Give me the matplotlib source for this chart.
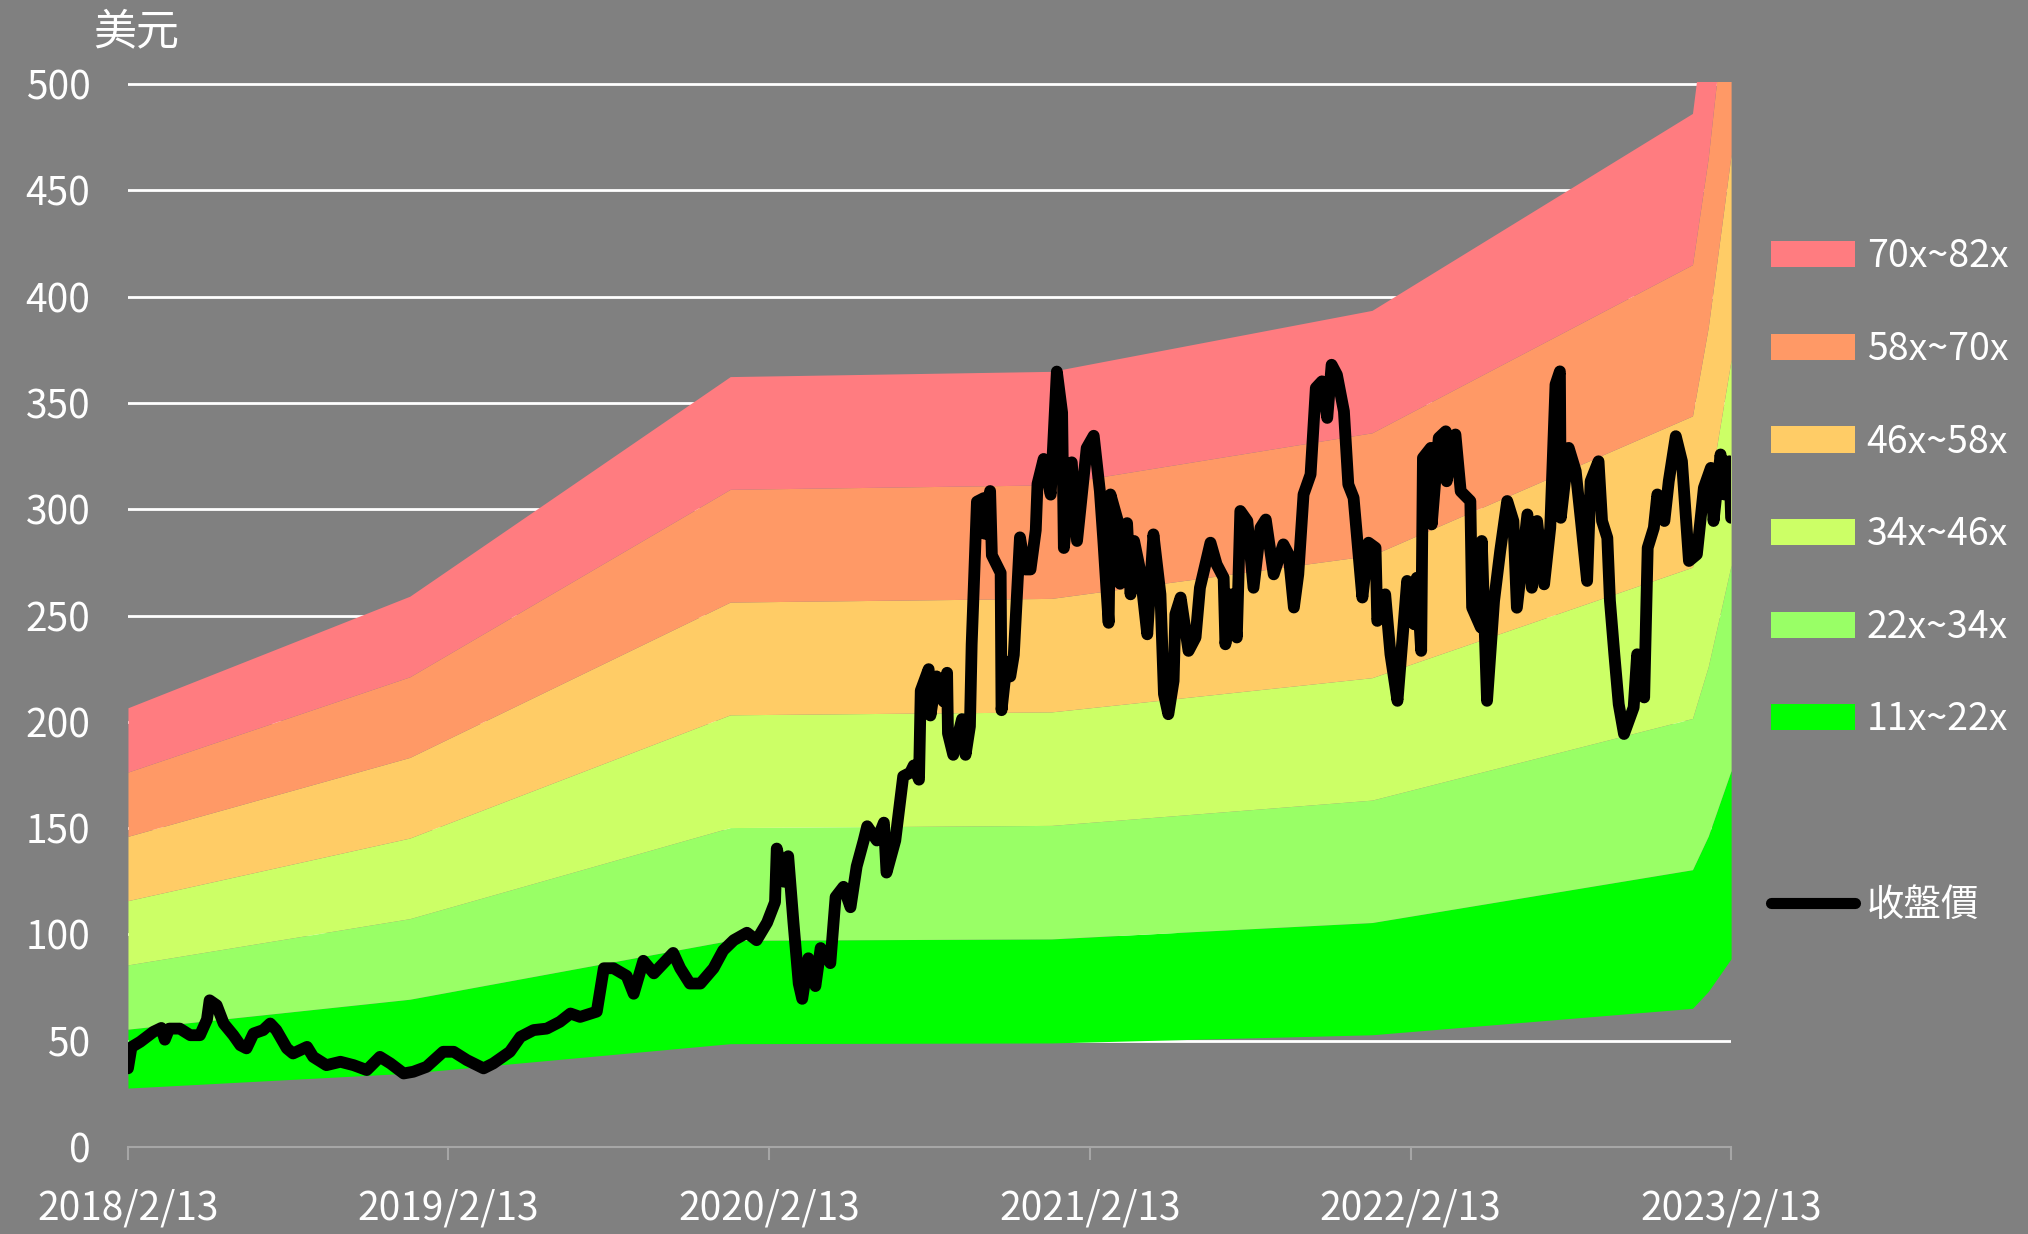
import datetime as dt
import numpy as np
import matplotlib
matplotlib.use('Agg')
import matplotlib.pyplot as plt
from matplotlib.patches import Patch
from matplotlib.lines import Line2D

# ---------------------------- data ----------------------------

START = dt.date(2018, 2, 13)

# EPS anchors (band = EPS * PE multiple)
eps_dates = ['2018-02-13', '2018-12-31', '2019-12-31', '2020-12-31',
             '2021-12-31', '2022-12-31', '2023-01-18', '2023-02-13']
eps_values = [2.52, 3.16, 4.42, 4.45, 4.80, 5.93, 6.65, 8.05]

pe_levels = [11, 22, 34, 46, 58, 70, 82]
band_labels = ['11x~22x', '22x~34x', '34x~46x', '46x~58x', '58x~70x', '70x~82x']
band_colors = ['#00FF00', '#99FF66', '#CCFF66', '#FFCC66', '#FF9966', '#FF7C80']

# closing price, days counted from 2018/2/13
price_day = [0, 4, 14, 29, 38, 42, 47, 59, 71, 82, 90, 93, 101, 109, 120, 128, 135, 143,
             154, 162, 169, 181, 188, 204, 211, 226, 242, 257, 272, 287, 299, 314, 325,
             340, 359, 371, 386, 405, 416, 435, 447, 462, 477, 492, 504, 515, 534,
             542, 553, 568, 576, 587, 599, 610, 621, 629, 640, 652, 667, 678, 690, 705,
             716, 728, 737, 739, 747, 752, 758, 764, 768, 775, 783, 789, 800, 806, 815,
             823, 830, 838, 842, 853, 861, 864, 874, 878, 883, 891, 895, 901, 903, 912,
             914, 921, 929, 933, 934, 940, 950, 954, 959, 961, 967, 975, 976, 982, 984,
             994, 995, 1001, 1005, 1009, 1016, 1022, 1028, 1034, 1036, 1043, 1051, 1058,
             1064, 1066, 1075, 1081, 1092, 1100, 1107, 1111, 1117, 1119, 1127, 1130,
             1138, 1142, 1146, 1153, 1161, 1168, 1176, 1180, 1185, 1191, 1193, 1199,
             1208, 1216, 1221, 1233, 1240, 1248, 1250, 1257, 1263, 1267, 1275, 1282,
             1290, 1296, 1305, 1316, 1322, 1328, 1333, 1339, 1347, 1353, 1360, 1366,
             1371, 1377, 1385, 1390, 1396, 1406, 1413, 1421, 1423, 1432, 1438, 1446,
             1457, 1465, 1468, 1473, 1475, 1484, 1485, 1493, 1501, 1502, 1512, 1518,
             1529, 1531, 1541, 1542, 1548, 1556, 1563, 1571, 1578, 1582, 1594, 1599,
             1605, 1613, 1620, 1626, 1631, 1632, 1641, 1649, 1655, 1662, 1666, 1675,
             1679, 1685, 1688, 1693, 1698, 1704, 1709, 1715, 1719, 1727, 1731, 1738,
             1742, 1750, 1755, 1763, 1770, 1778, 1787, 1795, 1803, 1806, 1814, 1818,
             1824, 1826]
price_close = [37, 47, 49.5, 54.2, 56, 50.5, 55.7, 55.7, 52.6, 52.6, 60, 69, 66.7, 58.1,
               52.6, 47.9, 46.4, 53.4, 55, 58.1, 55, 46.4, 44, 47.1, 42.4, 38.5, 40.1,
               38.5, 36.2, 42.4, 39.3, 34.6, 35.4, 37.7, 44.8, 44.8, 40.9, 37, 39.3,
               44.8, 51.8, 55, 55.7, 58.9, 62.8, 61.2, 63.7,
               84.1, 84.1, 80.5, 72.1, 87.6, 81.7, 86.5, 91.3, 84.1, 76.9, 76.9, 84.1,
               92.5, 97.3, 100.8, 97.3, 105.6, 115.2, 140.4, 124.8, 136.8, 105.6, 76.9,
               69.7, 88.8, 75.7, 93.6, 86.5, 117.6, 122.4, 112.8, 132, 144.2, 150.9,
               144.2, 152.6, 129.1, 144.2, 157.7, 174.4, 176.1, 179.5, 172.8, 214.7,
               224.8, 203, 221.4, 209.6, 223.1, 194.6, 184.5, 201.3, 184.5, 197.9, 236.5,
               303.6, 305.3, 288.5, 308.6, 278.4, 270.1, 205.5, 228.1, 221.4, 231.5,
               286.8, 271.7, 271.7, 290.2, 312, 323.7, 306.9, 364.8, 345.5, 281.8, 322.1,
               285.1, 328.8, 334.6, 308.6, 285.1, 246.6, 307, 295.2, 265, 293.5, 260,
               285.1, 271, 241.2, 288.2, 260, 213.1, 203.6, 219.3, 250.6, 258.5, 233.4,
               239.7, 263.1, 284.3, 274.1, 267.8, 236.5, 260, 239.7, 299.2, 294.5, 263.1,
               291.3, 295.2, 269.4, 283.5, 278.8, 253.8, 269.4, 307, 316.4, 357.1, 360.2,
               343, 368, 363.3, 346.1, 311.7, 305.4, 258.5, 284.3, 281.9, 247.5, 260,
               231.8, 209.9, 266.3, 245.9, 267.8, 233.4, 324.2, 328.9, 292.9, 333.6,
               336.7, 313.2, 335.2, 308.5, 303.9, 253.8, 244.4, 285.1, 209.9, 256.9,
               280.4, 303.9, 294.5, 253.7, 297.6, 263.1, 294.5, 264.7, 291.3, 358.7,
               364.9, 296, 328.9, 318, 294.5, 266.3, 313.2, 322.6, 294.5, 286.6, 256.9,
               231.8, 208.3, 194.3, 200, 206.8, 231.8, 211.5, 281.9, 291.3, 307, 294.5,
               313.2, 334.4, 322.6, 275.7, 278.8, 310.1, 319.5, 294.5, 325.8, 307, 322.6,
               296]

year_ticks = ['2018-02-13', '2019-02-13', '2020-02-13', '2021-02-13', '2022-02-13', '2023-02-13']

# ---------------------------- plot ----------------------------

plt.rcParams['font.family'] = ['Noto Sans CJK TC', 'DejaVu Sans']
BG = '#808080'
AXIS_GRAY = '#A6A6A6'

fig = plt.figure(figsize=(20.28, 12.34), dpi=100, facecolor=BG)
ax = fig.add_axes([0.0631, 0.0705, 0.7905, 0.863])
ax.set_facecolor(BG)

e_dates = [dt.datetime.strptime(d, '%Y-%m-%d') for d in eps_dates]
e_vals = np.array(eps_values)
for i in range(len(band_labels)):
    ax.fill_between(e_dates, e_vals * pe_levels[i], e_vals * pe_levels[i + 1],
                    color=band_colors[i], linewidth=0, zorder=1)

p_dates = [START + dt.timedelta(days=d) for d in price_day]
ax.plot(p_dates, price_close, color='black', linewidth=8.5,
        solid_joinstyle='round', solid_capstyle='round', zorder=3)

ax.set_xlim(dt.date(2018, 2, 13), dt.date(2023, 2, 13))
ax.set_ylim(0, 501)
ax.set_yticks(np.arange(0, 501, 50))
ax.yaxis.grid(True, color='white', linewidth=2)
ax.set_axisbelow(True)

ticks = [dt.datetime.strptime(d, '%Y-%m-%d') for d in year_ticks]
ax.set_xticks(ticks)
ax.set_xticklabels([f'{t.year}/{t.month}/{t.day}' for t in ticks])

for s in ['top', 'right', 'left']:
    ax.spines[s].set_visible(False)
ax.spines['bottom'].set_color(AXIS_GRAY)
ax.spines['bottom'].set_linewidth(1.5)

ax.tick_params(axis='y', length=0, pad=27, labelsize=28, labelcolor='white')
ax.tick_params(axis='x', length=9, width=1.5, color=AXIS_GRAY, pad=21,
               labelsize=28, labelcolor='white')

fig.text(0.067, 0.9737, '美元', fontsize=31, color='white', ha='center', va='center')

handles = [Patch(facecolor=band_colors[i], edgecolor='none', label=band_labels[i])
           for i in range(len(band_labels) - 1, -1, -1)]
handles.append(Line2D([], [], color='none', label=' '))
handles.append(Line2D([], [], color='black', linewidth=8, solid_capstyle='round', label='收盤價'))
leg = fig.legend(handles=handles, loc='upper left', bbox_to_anchor=(0.8735, 0.8077),
                 frameon=False, fontsize=27, labelcolor='white',
                 handlelength=2.24, handleheight=0.7, handletextpad=0.3,
                 labelspacing=1.43, borderpad=0, borderaxespad=0)

fig.savefig('out.png', dpi=100, facecolor=BG)
